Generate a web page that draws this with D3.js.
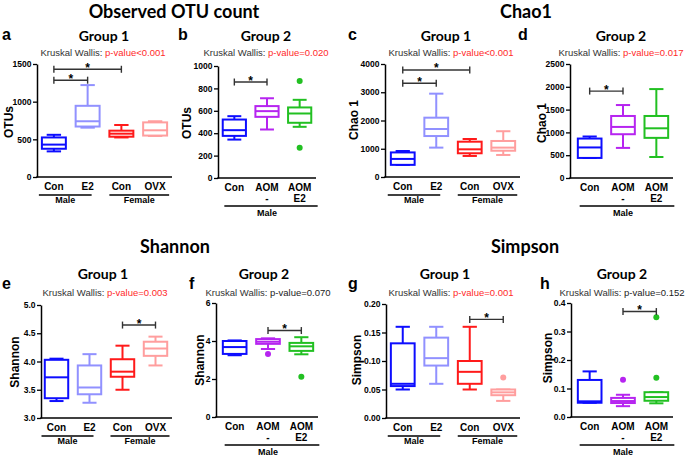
<!DOCTYPE html>
<html>
<head>
<meta charset="utf-8">
<script src="https://cdn.jsdelivr.net/npm/d3@7"></script>
<style>
  body { margin: 0; background: #fff; }
  svg { display: block; font-family: "Liberation Sans", Arial, sans-serif; }
</style>
</head>
<body>
<svg id="chart" width="685" height="457"></svg>
<script>
// categories
const catsG1 = [["Con"], ["E2"], ["Con"], ["OVX"]];
const catsG2 = [["Con"], ["AOM", "-"], ["AOM", "E2"]];
const sexG1 = [["Male", 0, 1], ["Female", 2, 3]];
const sexG2 = [["Male", 0, 2]];
const colorsG1 = ["#0d0dff", "#9191ff", "#ff1a1a", "#ff9e9e"];
const colorsG2 = ["#0d0dff", "#b624f0", "#22c022"];

// box stats: [min, q1, median, q3, max]
const otuG1 = [[340, 375, 430, 525, 560], [655, 670, 740, 945, 1220], [525, 535, 575, 615, 690], [545, 550, 620, 725, 740]];
const otuG2 = [[343, 376, 427, 522, 552], [433, 546, 597, 642, 712], [457, 493, 576, 630, 698]];
const otuG2Out = [[], [], [866, 269]];
const chaoG1 = [[430, 430, 640, 870, 920], [1040, 1450, 1700, 2100, 2950], [745, 840, 980, 1250, 1345], [780, 930, 1040, 1275, 1620]];
const chaoG2 = [[440, 440, 670, 865, 910], [660, 960, 1120, 1360, 1600], [460, 880, 1090, 1360, 1950]];
const shanG1 = [[3.30, 3.35, 3.72, 4.03, 4.05], [3.27, 3.42, 3.54, 3.93, 4.13], [3.50, 3.73, 3.82, 4.04, 4.28], [3.93, 4.10, 4.23, 4.35, 4.44]];
const shanG2 = [[3.25, 3.32, 3.68, 4.0, 4.03], [3.58, 3.85, 3.96, 4.1, 4.14], [3.3, 3.48, 3.72, 3.9, 4.2]];
const shanG2Out = [[], [3.32], [2.12]];
const simpG1 = [[0.05, 0.056, 0.06, 0.131, 0.16], [0.06, 0.092, 0.105, 0.141, 0.16], [0.05, 0.06, 0.081, 0.10, 0.16], [0.03, 0.04, 0.045, 0.05, 0.05]];
const simpG1Out = [[], [], [], [0.071]];
const simpG2 = [[0.05, 0.05, 0.055, 0.13, 0.16], [0.038, 0.049, 0.056, 0.067, 0.078], [0.048, 0.057, 0.07, 0.087, 0.087]];
const simpG2Out = [[], [0.131], [0.35, 0.138]];

// significance brackets: [from, to, y value]
const otuG1Sig = [[0, 1, 1285], [0, 2, 1430]];
const otuG2Sig = [[0, 1, 857]];
const chaoG1Sig = [[0, 1, 3316], [0, 2, 3790]];
const chaoG2Sig = [[0, 1, 1906]];
const shanG1Sig = [[2, 3, 4.645]];
const shanG2Sig = [[1, 2, 4.55]];
const simpG1Sig = [[2, 3, 0.173]];
const simpG2Sig = [[1, 2, 0.37]];

// Kruskal Wallis p-values
const pValues = ["p-value<0.001", "p-value=0.020", "p-value<0.001", "p-value=0.017",
                 "p-value=0.003", "p-value=0.070", "p-value=0.001", "p-value=0.152"];
const pSignificant = [true, true, true, true, true, false, true, false];

// y axis ticks
const otuTicksG1 = [0, 500, 1000, 1500];
const otuTicksG2 = [0, 200, 400, 600, 800, 1000];
const chaoTicksG1 = [0, 1000, 2000, 3000, 4000];
const chaoTicksG2 = [0, 500, 1000, 1500, 2000, 2500];
const shanTicksG1 = [3.0, 3.5, 4.0, 4.5, 5.0];
const shanTicksG2 = [0, 2, 4, 6];
const simpTicksG1 = [0, 0.05, 0.10, 0.15, 0.20];
const simpTicksG2 = [0, 0.1, 0.2, 0.3, 0.4];

const svg = d3.select('#chart');

// metric titles
const metricTitles = [["Observed OTU count", 174, 18], ["Chao1", 526, 18], ["Shannon", 175, 253], ["Simpson", 525, 253]];
svg.selectAll('.metric').data(metricTitles).enter().append('text')
  .attr('x', d => d[1]).attr('y', d => d[2])
  .attr('text-anchor', 'middle')
  .style('font-family', 'Lato, "Open Sans", sans-serif')
  .style('font-weight', 'bold').style('font-size', '18px')
  .text(d => d[0]);

// panel layout
const panels = [
  { letter: 'a', lx: 2, title: 'Group 1', tx: 104, sx: 103, row: 0, axisX: 37, xr: [37, 172], yr: [177, 64],
    dom: [0, 1500], ticks: otuTicksG1, fmt: 'd', ylab: 'OTUs', ylx: 8, yly: 122,
    cats: catsG1, sex: sexG1, colors: colorsG1, stats: otuG1, out: null, sig: otuG1Sig },
  { letter: 'b', lx: 178, title: 'Group 2', tx: 266, sx: 266, row: 0, axisX: 218, xr: [218, 316], yr: [178, 66],
    dom: [0, 1000], ticks: otuTicksG2, fmt: 'd', ylab: 'OTUs', ylx: 186, yly: 123,
    cats: catsG2, sex: sexG2, colors: colorsG2, stats: otuG2, out: otuG2Out, sig: otuG2Sig },
  { letter: 'c', lx: 348, title: 'Group 1', tx: 446, sx: 451, row: 0, axisX: 385, xr: [386, 520], yr: [177, 64],
    dom: [0, 4000], ticks: chaoTicksG1, fmt: 'd', ylab: 'Chao 1', ylx: 353, yly: 120,
    cats: catsG1, sex: sexG1, colors: colorsG1, stats: chaoG1, out: null, sig: chaoG1Sig },
  { letter: 'd', lx: 518, title: 'Group 2', tx: 621, sx: 621, row: 0, axisX: 570, xr: [573, 673], yr: [178, 64],
    dom: [0, 2500], ticks: chaoTicksG2, fmt: 'd', ylab: 'Chao 1', ylx: 541, yly: 123,
    cats: catsG2, sex: sexG2, colors: colorsG2, stats: chaoG2, out: null, sig: chaoG2Sig },
  { letter: 'e', lx: 2, title: 'Group 1', tx: 103, sx: 105, row: 1, axisX: 41, xr: [40, 172], yr: [418, 305],
    dom: [3, 5], ticks: shanTicksG1, fmt: '.1f', ylab: 'Shannon', ylx: 14, yly: 362,
    cats: catsG1, sex: sexG1, colors: colorsG1, stats: shanG1, out: null, sig: shanG1Sig },
  { letter: 'f', lx: 189, title: 'Group 2', tx: 264, sx: 268, row: 1, axisX: 216, xr: [218, 318], yr: [417, 303],
    dom: [0, 6], ticks: shanTicksG2, fmt: 'd', ylab: 'Shannon', ylx: 199, yly: 360,
    cats: catsG2, sex: sexG2, colors: colorsG2, stats: shanG2, out: shanG2Out, sig: shanG2Sig },
  { letter: 'g', lx: 348, title: 'Group 1', tx: 445, sx: 451, row: 1, axisX: 386, xr: [386, 520], yr: [418, 304],
    dom: [0, 0.2], ticks: simpTicksG1, fmt: '.2f', ylab: 'Simpson', ylx: 356, yly: 360,
    cats: catsG1, sex: sexG1, colors: colorsG1, stats: simpG1, out: simpG1Out, sig: simpG1Sig },
  { letter: 'h', lx: 540, title: 'Group 2', tx: 622, sx: 622, row: 1, axisX: 571, xr: [573, 673], yr: [417, 303],
    dom: [0, 0.4], ticks: simpTicksG2, fmt: '.1f', ylab: 'Simpson', ylx: 547, yly: 358,
    cats: catsG2, sex: sexG2, colors: colorsG2, stats: simpG2, out: simpG2Out, sig: simpG2Sig }
];

panels.forEach((p, pi) => drawPanel(p, pi));

function drawPanel(p, pi) {
  const g = svg.append('g');
  const x = d3.scalePoint().domain(d3.range(p.cats.length)).range(p.xr).padding(0.5);
  const y = d3.scaleLinear().domain(p.dom).range(p.yr);
  const boxW = x.step() * 0.71;
  const capW = boxW * 0.6;
  const yBase = p.yr[0];
  const titleY = p.row === 0 ? 41 : 279;
  const statY = p.row === 0 ? 56 : 295.5;

  // panel letter
  g.append('text').attr('x', p.lx).attr('y', p.row === 0 ? 40 : 289)
    .style('font-weight', 'bold').style('font-size', '16px').text(p.letter);

  // group title
  g.append('text').attr('x', p.tx).attr('y', titleY).attr('text-anchor', 'middle')
    .style('font-family', 'Lato, "Open Sans", sans-serif')
    .style('font-weight', 'bold').style('font-size', '14px').text(p.title);

  // Kruskal Wallis line
  const st = g.append('text').attr('x', p.sx).attr('y', statY).attr('text-anchor', 'middle')
    .style('font-size', '9.5px');
  st.append('tspan').attr('fill', '#333').text('Kruskal Wallis: ');
  st.append('tspan').attr('fill', pSignificant[pi] ? '#ff2a2a' : '#222').text(pValues[pi]);

  // y axis
  const yAxis = d3.axisLeft(y).tickValues(p.ticks).tickFormat(d3.format(p.fmt))
    .tickSize(4).tickSizeOuter(0).tickPadding(1.5);
  const ya = g.append('g').attr('transform', `translate(${p.axisX},0)`).call(yAxis);
  ya.select('.domain').attr('stroke', '#000').attr('stroke-width', 1.5);
  ya.selectAll('.tick line').attr('stroke', '#000').attr('stroke-width', 1.3);
  ya.selectAll('.tick text').attr('fill', '#000')
    .style('font-weight', 'bold').style('font-size', '8.5px')
    .style('font-family', '"Liberation Sans", Arial, sans-serif');

  // y label
  g.append('text')
    .attr('transform', `translate(${p.ylx + 4.5},${p.yly}) rotate(-90)`)
    .attr('text-anchor', 'middle')
    .style('font-weight', 'bold').style('font-size', '12px').text(p.ylab);

  // x axis line
  g.append('line').attr('x1', p.axisX - 0.75).attr('x2', p.xr[1])
    .attr('y1', yBase).attr('y2', yBase).attr('stroke', '#000').attr('stroke-width', 1.5);

  // x labels
  const two = p.cats.length === 3;
  p.cats.forEach((lines, i) => {
    lines.forEach((t, k) => {
      g.append('text').attr('x', x(i)).attr('y', yBase + 13 + k * 11)
        .attr('text-anchor', 'middle')
        .style('font-weight', 'bold').style('font-size', '10px').text(t);
    });
  });

  // sex group lines
  const lineY = yBase + (two ? 28 : 18);
  const sexTextY = yBase + (two ? 38 : 26);
  p.sex.forEach(([label, a, b], si) => {
    let x1, x2;
    if (two) { x1 = x(a) - 10; x2 = x(b) + 18; }
    else if (si === 0) { x1 = x(a) - 15; x2 = x(b) + 4; }
    else { x1 = x(a) - 12; x2 = x(b) + 14; }
    g.append('line').attr('x1', x1).attr('x2', x2).attr('y1', lineY).attr('y2', lineY)
      .attr('stroke', '#000').attr('stroke-width', 1.3);
    g.append('text').attr('x', two ? x(1) : (x1 + x2) / 2).attr('y', sexTextY)
      .attr('text-anchor', 'middle')
      .style('font-weight', 'bold').style('font-size', '9px').text(label);
  });

  // boxes
  p.stats.forEach((s, i) => {
    const [mn, q1, md, q3, mx] = s;
    const cx = x(i);
    const col = p.colors[i];
    const bg = g.append('g').attr('stroke', col).attr('stroke-width', 2).attr('fill', 'none');
    bg.append('line').attr('x1', cx).attr('x2', cx).attr('y1', y(mx)).attr('y2', y(q3));
    bg.append('line').attr('x1', cx).attr('x2', cx).attr('y1', y(q1)).attr('y2', y(mn));
    bg.append('line').attr('x1', cx - capW / 2).attr('x2', cx + capW / 2).attr('y1', y(mx)).attr('y2', y(mx));
    bg.append('line').attr('x1', cx - capW / 2).attr('x2', cx + capW / 2).attr('y1', y(mn)).attr('y2', y(mn));
    bg.append('rect').attr('x', cx - boxW / 2).attr('width', boxW)
      .attr('y', y(q3)).attr('height', Math.max(0.5, y(q1) - y(q3))).attr('fill', '#fff');
    bg.append('line').attr('x1', cx - boxW / 2).attr('x2', cx + boxW / 2).attr('y1', y(md)).attr('y2', y(md));
    if (p.out) {
      p.out[i].forEach(v => {
        g.append('circle').attr('cx', cx).attr('cy', y(v)).attr('r', 3).attr('fill', col);
      });
    }
  });

  // significance brackets
  p.sig.forEach(([a, b, v]) => {
    const yy = y(v);
    const bk = g.append('g').attr('stroke', '#333').attr('stroke-width', 1.4);
    bk.append('line').attr('x1', x(a)).attr('x2', x(b)).attr('y1', yy).attr('y2', yy);
    bk.append('line').attr('x1', x(a)).attr('x2', x(a)).attr('y1', yy - 3.5).attr('y2', yy + 3.5);
    bk.append('line').attr('x1', x(b)).attr('x2', x(b)).attr('y1', yy - 3.5).attr('y2', yy + 3.5);
    g.append('text').attr('x', (x(a) + x(b)) / 2).attr('y', yy + 2.5)
      .attr('text-anchor', 'middle')
      .style('font-weight', 'bold').style('font-size', '12px').text('*');
  });
}
</script>
</body>
</html>
